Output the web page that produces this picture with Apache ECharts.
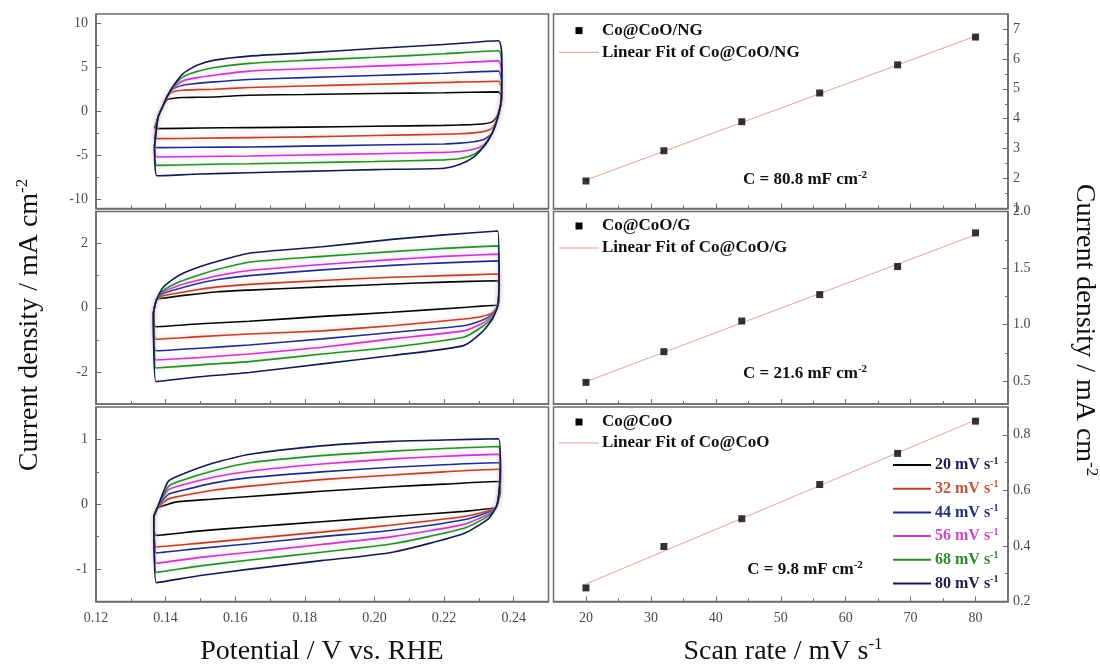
<!DOCTYPE html>
<html><head><meta charset="utf-8">
<script src="https://cdn.jsdelivr.net/npm/echarts@6/dist/echarts.min.js"></script>
<style>html,body{margin:0;padding:0;background:#fff}#c{width:1100px;height:670px}</style>
</head><body><div id="c"></div>
<script>
// ---------------- data ----------------
const scanLabels = ['20', '32', '44', '56', '68', '80'];

// Co@CoO/NG cyclic voltammograms (potential V vs RHE, current mA cm-2)
const ngUpV  = [0.1368, 0.1378, 0.1390, 0.1405, 0.1420, 0.145, 0.149, 0.154, 0.164, 0.18, 0.20, 0.22, 0.2356];
const ngLowV = [0.2366, 0.2364, 0.2352, 0.2338, 0.2314, 0.2285, 0.2246, 0.22, 0.20, 0.18, 0.164, 0.15, 0.1375];
const ng20Up = [-1.96, -0.7, 0.4, 1.33, 1.45, 1.55, 1.58, 1.62, 1.81, 1.9, 2.0, 2.1, 2.19];
const ng32Up = [-3.1, -0.7, 0.4, 1.7, 2.2, 2.38, 2.45, 2.49, 2.68, 2.85, 3.05, 3.25, 3.4];
const ng44Up = [-4.0, -0.7, 0.4, 1.7, 2.5, 2.95, 3.15, 3.32, 3.59, 3.8, 4.05, 4.3, 4.54];
const ng56Up = [-4.0, -0.7, 0.4, 1.7, 2.6, 3.44, 3.8, 4.08, 4.54, 4.8, 5.1, 5.4, 5.70];
const ng68Up = [-4.0, -0.7, 0.4, 1.7, 2.7, 3.89, 4.5, 4.95, 5.41, 5.75, 6.1, 6.5, 6.84];
const ng80Up = [-4.0, -0.7, 0.4, 1.7, 2.75, 4.25, 5.2, 5.78, 6.24, 6.6, 7.1, 7.55, 7.97];
const ng20Low = [1.6, 1.0, -0.6, -1.2, -1.42, -1.5, -1.55, -1.6, -1.7, -1.8, -1.85, -1.9, -1.96];
const ng32Low = [2.5, 1.0, -1.0, -1.9, -2.3, -2.45, -2.55, -2.6, -2.75, -2.9, -2.98, -3.05, -3.1];
const ng44Low = [3.0, 1.0, -1.0, -2.5, -3.2, -3.45, -3.6, -3.7, -3.82, -3.95, -4.04, -4.08, -4.12];
const ng56Low = [3.5, 1.0, -1.0, -2.5, -3.8, -4.3, -4.55, -4.65, -4.8, -4.95, -5.06, -5.12, -5.17];
const ng68Low = [4.5, 1.1, -1.0, -2.5, -4.0, -4.9, -5.35, -5.5, -5.68, -5.82, -5.93, -6.02, -6.12];
const ng80Low = [6.2, 1.25, -1.0, -2.5, -4.0, -5.2, -6.0, -6.45, -6.6, -6.8, -6.95, -7.1, -7.3];

// Co@CoO/G
const gUpV  = [0.1365, 0.1374, 0.1395, 0.144, 0.149, 0.155, 0.164, 0.185, 0.205, 0.22, 0.2354];
const gLowV = [0.2358, 0.2354, 0.2339, 0.2308, 0.2256, 0.205, 0.185, 0.164, 0.15, 0.1372];
const g20Up = [-0.15, 0.25, 0.30, 0.37, 0.43, 0.50, 0.55, 0.65, 0.74, 0.80, 0.84];
const g32Up = [-0.15, 0.25, 0.38, 0.47, 0.56, 0.65, 0.73, 0.85, 0.95, 1.00, 1.05];
const g44Up = [-0.15, 0.25, 0.45, 0.60, 0.75, 0.88, 1.00, 1.18, 1.32, 1.40, 1.46];
const g56Up = [-0.15, 0.25, 0.50, 0.70, 0.85, 1.00, 1.16, 1.35, 1.50, 1.60, 1.67];
const g68Up = [-0.15, 0.25, 0.55, 0.81, 1.00, 1.20, 1.42, 1.60, 1.75, 1.85, 1.93];
const g80Up = [-0.15, 0.25, 0.66, 1.02, 1.25, 1.45, 1.70, 1.90, 2.13, 2.27, 2.39];
const g20Low = [0.4, 0.08, 0.07, 0.05, 0.01, -0.14, -0.27, -0.42, -0.50, -0.59];
const g32Low = [0.5, 0.06, -0.15, -0.27, -0.35, -0.56, -0.72, -0.82, -0.90, -0.98];
const g44Low = [0.6, 0.06, -0.20, -0.40, -0.56, -0.77, -0.97, -1.16, -1.26, -1.34];
const g56Low = [0.7, 0.06, -0.25, -0.50, -0.72, -0.97, -1.23, -1.44, -1.55, -1.63];
const g68Low = [0.8, 0.06, -0.30, -0.60, -0.92, -1.23, -1.44, -1.68, -1.78, -1.88];
const g80Low = [1.0, 0.06, -0.35, -0.77, -1.18, -1.49, -1.75, -2.02, -2.15, -2.30];

// Co@CoO
const cUpV  = [0.1366, 0.1376, 0.1407, 0.1437, 0.154, 0.1642, 0.1847, 0.2052, 0.22, 0.2356];
const cLowV = [0.2362, 0.2356, 0.2349, 0.2328, 0.2257, 0.2052, 0.1847, 0.1642, 0.15, 0.1373];
const c20Up = [-0.19, -0.06, 0.00, 0.04, 0.08, 0.12, 0.20, 0.27, 0.31, 0.35];
const c32Up = [-0.19, -0.06, 0.08, 0.12, 0.22, 0.28, 0.38, 0.45, 0.50, 0.54];
const c44Up = [-0.19, -0.06, 0.15, 0.20, 0.33, 0.41, 0.50, 0.57, 0.61, 0.64];
const c56Up = [-0.19, -0.06, 0.22, 0.28, 0.42, 0.51, 0.62, 0.70, 0.74, 0.77];
const c68Up = [-0.19, -0.06, 0.27, 0.35, 0.52, 0.64, 0.75, 0.82, 0.86, 0.89];
const c80Up = [-0.19, -0.06, 0.35, 0.44, 0.64, 0.77, 0.90, 0.97, 0.99, 1.01];
const c20Low = [0.20, 0.05, -0.05, -0.07, -0.11, -0.19, -0.27, -0.35, -0.41, -0.48];
const c32Low = [0.35, 0.10, -0.05, -0.10, -0.19, -0.32, -0.43, -0.53, -0.60, -0.66];
const c44Low = [0.40, 0.10, -0.05, -0.12, -0.24, -0.40, -0.50, -0.61, -0.68, -0.75];
const c56Low = [0.45, 0.10, -0.05, -0.15, -0.31, -0.50, -0.62, -0.74, -0.82, -0.91];
const c68Low = [0.50, 0.10, -0.05, -0.18, -0.37, -0.61, -0.74, -0.86, -0.95, -1.05];
const c80Low = [0.60, 0.10, -0.05, -0.22, -0.45, -0.74, -0.87, -1.00, -1.10, -1.21];

// Scan-rate plots
const scanRates = [20, 32, 44, 56, 68, 80];
const ngRate = [1.92, 2.93, 3.90, 4.86, 5.80, 6.73];
const gRate  = [0.491, 0.762, 1.033, 1.266, 1.514, 1.811];
const cRate  = [0.249, 0.398, 0.498, 0.621, 0.733, 0.849];
const fitRates = [20, 80];
const ngFit = [1.95, 6.76];
const gFit  = [0.497, 1.795];
const cFit  = [0.263, 0.853];
const sampleNames = ['Co@CoO/NG', 'Co@CoO/G', 'Co@CoO'];
const capacitance = ['C = 80.8 mF cm', 'C = 21.6 mF cm', 'C = 9.8 mF cm'];

// Tick values
const cvXTicks = [0.12, 0.14, 0.16, 0.18, 0.20, 0.22, 0.24];
const cvXMinor = [0.13, 0.15, 0.17, 0.19, 0.21, 0.23];
const ngYTicks = [-10, -5, 0, 5, 10];
const ngYMinor = [-7.5, -2.5, 2.5, 7.5];
const gYTicks = [-2, 0, 2];
const gYMinor = [-1, 1];
const cYTicks = [-1, 0, 1];
const cYMinor = [-0.5, 0.5];
const rateXTicks = [20, 30, 40, 50, 60, 70, 80];
const rateXMinor = [25, 35, 45, 55, 65, 75];
const ngRTicks = [1, 2, 3, 4, 5, 6, 7];
const ngRMinor = [1.5, 2.5, 3.5, 4.5, 5.5, 6.5];
const gRTicks = [0.5, 1.0, 1.5, 2.0];
const gRMinor = [0.75, 1.25, 1.75];
const cRTicks = [0.2, 0.4, 0.6, 0.8];
const cRMinor = [0.3, 0.5, 0.7];

// ---------------- styling / layout ----------------
const SERIF = '"Liberation Serif", "Times New Roman", serif';
const FRAME = '#6c6c6c';
const LABEL_COLOR = '#4a4a4a';
const cvColors = ['#050505', '#b4452f', '#1f2d86', '#c23fc2', '#2f8a2f', '#141a50'];
const cvHalo = [null, 'rgba(235,150,130,0.6)', null, 'rgba(245,150,245,0.8)', 'rgba(150,220,150,0.6)', null];
const legendTextColors = ['#1c1c50', '#c4533c', '#24307e', '#c84cc8', '#2f8a2f', '#1c1c50'];

const gridBoxes = [
  {left: 96, top: 14, width: 452.5, height: 194.5},
  {left: 96, top: 211.5, width: 452.5, height: 192.5},
  {left: 96, top: 407, width: 452.5, height: 194.5},
  {left: 553.5, top: 14, width: 454.5, height: 194.5},
  {left: 553.5, top: 211.5, width: 454.5, height: 192.5},
  {left: 553.5, top: 407, width: 454.5, height: 194.5}
];

function loop(upV, up, lowV, low) {
  const pts = upV.map((v, i) => [v, up[i]]);
  lowV.forEach((v, i) => pts.push([v, low[i]]));
  pts.push(pts[0].slice());
  return pts;
}

function mkAxis(gi, min, max, ticks, pos, len, isMain, labelShow, fmt, margin) {
  return {
    type: 'value', gridIndex: gi, min: min, max: max, position: pos,
    axisLine: {show: isMain, onZero: false, lineStyle: {color: FRAME, width: 1.5}},
    axisTick: {show: true, inside: true, length: len, customValues: ticks, lineStyle: {color: FRAME, width: 1}},
    axisLabel: {show: labelShow, customValues: ticks, formatter: fmt, fontFamily: SERIF, fontSize: 14, color: LABEL_COLOR, margin: margin},
    splitLine: {show: false}, minorTick: {show: false}, minorSplitLine: {show: false}
  };
}

const f2 = v => v.toFixed(2);
const f1 = v => v.toFixed(1);
const f0 = v => String(Math.round(v));

const xDefs = [
  [0.12, 0.25, cvXTicks, cvXMinor, false, f2],
  [0.12, 0.25, cvXTicks, cvXMinor, false, f2],
  [0.12, 0.25, cvXTicks, cvXMinor, true, f2],
  [15, 85, rateXTicks, rateXMinor, false, f0],
  [15, 85, rateXTicks, rateXMinor, false, f0],
  [15, 85, rateXTicks, rateXMinor, true, f0]
];
const yDefs = [
  [-11, 11, ngYTicks, ngYMinor, 'left', f0],
  [-3, 3, gYTicks, gYMinor, 'left', f0],
  [-1.5, 1.5, cYTicks, cYMinor, 'left', f0],
  [1, 7.5, ngRTicks, ngRMinor, 'right', f0],
  [0.3, 2.0, gRTicks, gRMinor, 'right', f1],
  [0.2, 0.9, cRTicks, cRMinor, 'right', f1]
];

const xAxes = [], yAxes = [];
xDefs.forEach((d, i) => xAxes.push(mkAxis(i, d[0], d[1], d[2], 'bottom', 5, true, d[4], d[5], 10)));
xDefs.forEach((d, i) => xAxes.push(mkAxis(i, d[0], d[1], d[3], 'bottom', 3, false, false, d[5], 10)));
yDefs.forEach((d, i) => yAxes.push(mkAxis(i, d[0], d[1], d[2], d[4], 5, true, true, d[5], d[4] === 'left' ? 8 : 5)));
yDefs.forEach((d, i) => yAxes.push(mkAxis(i, d[0], d[1], d[3], d[4], 3, false, false, d[5], 8)));

const series = [];
const cvPanels = [
  [ngUpV, ngLowV, [ng20Up, ng32Up, ng44Up, ng56Up, ng68Up, ng80Up], [ng20Low, ng32Low, ng44Low, ng56Low, ng68Low, ng80Low]],
  [gUpV, gLowV, [g20Up, g32Up, g44Up, g56Up, g68Up, g80Up], [g20Low, g32Low, g44Low, g56Low, g68Low, g80Low]],
  [cUpV, cLowV, [c20Up, c32Up, c44Up, c56Up, c68Up, c80Up], [c20Low, c32Low, c44Low, c56Low, c68Low, c80Low]]
];
cvPanels.forEach((p, gi) => {
  for (let k = 0; k < 6; k++) {
    const ls = {color: cvColors[k], width: 1.6};
    if (cvHalo[k]) { ls.shadowColor = cvHalo[k]; ls.shadowBlur = 4; }
    series.push({
      type: 'line', name: scanLabels[k] + ' mV s-1', xAxisIndex: gi, yAxisIndex: gi,
      data: loop(p[0], p[2][k], p[1], p[3][k]), showSymbol: false, symbol: 'none', smooth: 0.2,
      lineStyle: ls, silent: true, z: 2 + k * 0.1
    });
  }
});
const ratePanels = [[ngRate, ngFit], [gRate, gFit], [cRate, cFit]];
ratePanels.forEach((p, j) => {
  const gi = 3 + j;
  series.push({
    type: 'line', name: 'Linear Fit of ' + sampleNames[j], xAxisIndex: gi, yAxisIndex: gi,
    data: fitRates.map((r, i) => [r, p[1][i]]), showSymbol: false, symbol: 'none',
    lineStyle: {color: '#e0a394', width: 1}, silent: true, z: 2
  });
  series.push({
    type: 'scatter', name: sampleNames[j], xAxisIndex: gi, yAxisIndex: gi,
    data: scanRates.map((r, i) => [r, p[0][i]]), symbol: 'rect', symbolSize: 7,
    itemStyle: {color: '#000'}, silent: true, z: 3
  });
});

// ---------------- text / legends ----------------
const graphics = [];
function addText(x, y, main, sup, size, bold, color, align, rot) {
  const supSize = Math.round(size * 0.62);
  const lh = Math.round(size * 1.15);
  graphics.push({
    type: 'text', x: x, y: y, rotation: rot || 0, silent: true, z: 100,
    style: {
      text: '{a|' + main + '}' + (sup ? '{s|' + sup + '}' : ''),
      align: align, verticalAlign: 'middle', fill: color,
      rich: {
        a: {fontFamily: SERIF, fontSize: size, fontWeight: bold ? 'bold' : 'normal', fill: color, lineHeight: lh},
        s: {fontFamily: SERIF, fontSize: supSize, fontWeight: bold ? 'bold' : 'normal', fill: color, lineHeight: supSize, verticalAlign: 'top'}
      }
    }
  });
}
addText(30, 325, 'Current density / mA cm', '-2', 28, false, '#111', 'center', Math.PI / 2);
addText(1084, 330, 'Current density / mA cm', '-2', 28, false, '#111', 'center', -Math.PI / 2);
addText(322, 652, 'Potential / V vs. RHE', null, 28, false, '#111', 'center', 0);
addText(783, 652, 'Scan rate / mV s', '-1', 28, false, '#111', 'center', 0);

const legendRows = [[30.6, 52.4], [226, 248], [422, 443]];
const cTextY = [180, 374, 570];
legendRows.forEach((r, j) => {
  graphics.push({type: 'rect', silent: true, z: 100, shape: {x: 575.5, y: r[0] - 3.5, width: 7, height: 7}, style: {fill: '#000'}});
  addText(602, r[0], sampleNames[j], null, 17, true, '#111', 'left', 0);
  graphics.push({type: 'line', silent: true, z: 100, shape: {x1: 559, y1: r[1], x2: 599, y2: r[1]}, style: {stroke: '#e0a394', lineWidth: 1}});
  addText(602, r[1], 'Linear Fit of ' + sampleNames[j], null, 17, true, '#111', 'left', 0);
  addText(805, cTextY[j], capacitance[j], '-2', 17, true, '#111', 'center', 0);
});

const cvLegendY = [465, 488.7, 512.4, 536.1, 559.8, 583.5];
scanLabels.forEach((s, k) => {
  graphics.push({type: 'line', silent: true, z: 100, shape: {x1: 893, y1: cvLegendY[k], x2: 931, y2: cvLegendY[k]}, style: {stroke: cvColors[k], lineWidth: 2}});
  addText(935, cvLegendY[k], s + ' mV s', '-1', 16, true, legendTextColors[k], 'left', 0);
});

const chart = echarts.init(document.getElementById('c'), null, {renderer: 'canvas'});
chart.setOption({
  animation: false,
  backgroundColor: '#ffffff',
  grid: gridBoxes.map(b => Object.assign({show: true, borderColor: FRAME, borderWidth: 1.5, backgroundColor: 'transparent', containLabel: false, outerBoundsMode: 'none'}, b)),
  xAxis: xAxes,
  yAxis: yAxes,
  series: series,
  graphic: graphics
});
</script></body></html>
